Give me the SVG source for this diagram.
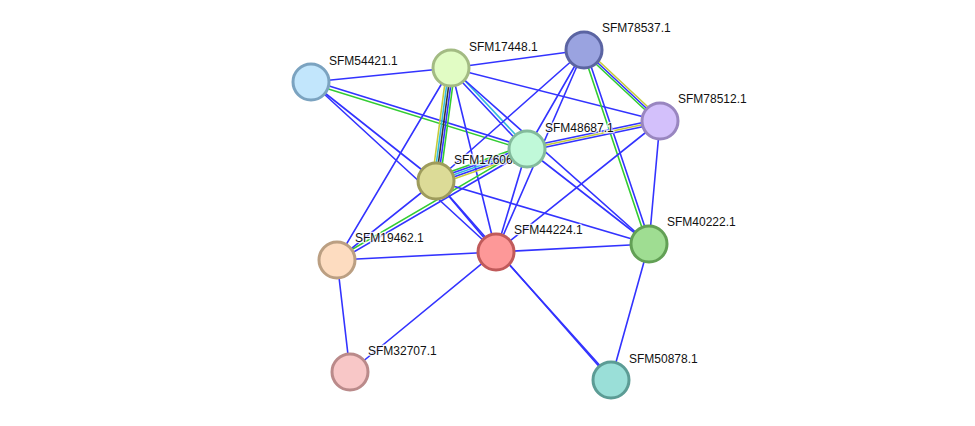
<svg xmlns="http://www.w3.org/2000/svg" width="975" height="426" viewBox="0 0 975 426">
<style>
.e{fill:none;stroke-width:1.6;stroke-linecap:round}
.b{stroke:#3333ff}
.g{stroke:#33cc33}
.y{stroke:#c6cc3a}
.c{stroke:#33bbdd}
.k{stroke:#333333}
.n{stroke-width:3}
.t{font-family:"Liberation Sans",Arial,sans-serif;font-size:12px;fill:#111;stroke:#fff;stroke-width:2.5;stroke-opacity:0.8;paint-order:stroke}
</style>
<rect width="975" height="426" fill="#fff"/>
<g id="edges">
<line class="e b" x1="311" y1="82" x2="451" y2="68"/>
<line class="e b" x1="311.4" y1="80.6" x2="527.4" y2="147.6"/>
<line class="e g" x1="310.6" y1="83.4" x2="526.6" y2="150.4"/>
<line class="e b" x1="311" y1="82" x2="436" y2="181"/>
<line class="e b" x1="311" y1="82" x2="496" y2="252"/>
<line class="e b" x1="451" y1="68" x2="584" y2="50"/>
<line class="e b" x1="451" y1="68" x2="660" y2="121"/>
<line class="e y" x1="447" y1="67.5" x2="432" y2="180.5"/>
<line class="e c" x1="449" y1="67.7" x2="434" y2="180.7"/>
<line class="e k" x1="451" y1="68" x2="436" y2="181"/>
<line class="e b" x1="453" y1="68.3" x2="438" y2="181.3"/>
<line class="e g" x1="455" y1="68.5" x2="440" y2="181.5"/>
<line class="e b" x1="449.9" y1="69" x2="525.9" y2="150"/>
<line class="e c" x1="452.1" y1="67" x2="528.1" y2="148"/>
<line class="e b" x1="451" y1="68" x2="649" y2="244"/>
<line class="e b" x1="451" y1="68" x2="337" y2="260"/>
<line class="e b" x1="451" y1="68" x2="496" y2="252"/>
<line class="e y" x1="585.4" y1="48.5" x2="661.4" y2="119.5"/>
<line class="e b" x1="584" y1="50" x2="660" y2="121"/>
<line class="e g" x1="582.6" y1="51.5" x2="658.6" y2="122.5"/>
<line class="e g" x1="582.6" y1="50.5" x2="647.6" y2="244.5"/>
<line class="e b" x1="585.4" y1="49.5" x2="650.4" y2="243.5"/>
<line class="e b" x1="584" y1="50" x2="436" y2="181"/>
<line class="e b" x1="584" y1="50" x2="527" y2="149"/>
<line class="e b" x1="584" y1="50" x2="496" y2="252"/>
<line class="e b" x1="659.6" y1="119" x2="526.6" y2="147"/>
<line class="e y" x1="660" y1="121" x2="527" y2="149"/>
<line class="e b" x1="660.4" y1="123" x2="527.4" y2="151"/>
<line class="e b" x1="660" y1="121" x2="496" y2="252"/>
<line class="e b" x1="660" y1="121" x2="649" y2="244"/>
<line class="e g" x1="434.7" y1="177.2" x2="525.7" y2="145.2"/>
<line class="e b" x1="435.4" y1="179.1" x2="526.4" y2="147.1"/>
<line class="e c" x1="436" y1="181" x2="527" y2="149"/>
<line class="e b" x1="436.6" y1="182.9" x2="527.6" y2="150.9"/>
<line class="e y" x1="437.3" y1="184.8" x2="528.3" y2="152.8"/>
<line class="e g" x1="526.2" y1="147.7" x2="336.2" y2="258.7"/>
<line class="e b" x1="527.8" y1="150.3" x2="337.8" y2="261.3"/>
<line class="e b" x1="527" y1="149" x2="496" y2="252"/>
<line class="e b" x1="527" y1="149" x2="649" y2="244"/>
<line class="e b" x1="436" y1="181" x2="496" y2="252"/>
<line class="e b" x1="436" y1="181" x2="611" y2="380"/>
<line class="e b" x1="436" y1="181" x2="649" y2="244"/>
<line class="e b" x1="436" y1="181" x2="337" y2="260"/>
<line class="e b" x1="337" y1="260" x2="496" y2="252"/>
<line class="e b" x1="337" y1="260" x2="350" y2="372"/>
<line class="e b" x1="496" y1="252" x2="649" y2="244"/>
<line class="e b" x1="496" y1="252" x2="350" y2="372"/>
<line class="e b" x1="497" y1="251" x2="612" y2="379"/>
<line class="e b" x1="649" y1="244" x2="611" y2="380"/>
</g>
<g id="SFM54421.1"><circle class="n" cx="311" cy="82" r="18" fill="#c2e6fc" stroke="#7ba3c0"/><text class="t" x="329" y="65">SFM54421.1</text></g>
<g id="SFM17448.1"><circle class="n" cx="451" cy="68" r="18" fill="#e1fcc4" stroke="#a3bb83"/><text class="t" x="469" y="51">SFM17448.1</text></g>
<g id="SFM78537.1"><circle class="n" cx="584" cy="50" r="18" fill="#9aa3e0" stroke="#5b64a2"/><text class="t" x="602" y="32">SFM78537.1</text></g>
<g id="SFM78512.1"><circle class="n" cx="660" cy="121" r="18" fill="#d3c0fb" stroke="#9986c0"/><text class="t" x="678" y="103">SFM78512.1</text></g>
<g id="SFM17606.1"><circle class="n" cx="436" cy="181" r="18" fill="#dcdb97" stroke="#9e9c5c"/><text class="t" x="454" y="164">SFM17606.1</text></g>
<g id="SFM48687.1"><circle class="n" cx="527" cy="149" r="18" fill="#c0f9d9" stroke="#83bb9c"/><text class="t" x="545" y="132">SFM48687.1</text></g>
<g id="SFM44224.1"><circle class="n" cx="496" cy="252" r="18" fill="#fd9898" stroke="#c05a5a"/><text class="t" x="514" y="234">SFM44224.1</text></g>
<g id="SFM40222.1"><circle class="n" cx="649" cy="244" r="18" fill="#9fdd92" stroke="#62a055"/><text class="t" x="667" y="226">SFM40222.1</text></g>
<g id="SFM19462.1"><circle class="n" cx="337" cy="260" r="18" fill="#fddcc0" stroke="#bb9f82"/><text class="t" x="355" y="242">SFM19462.1</text></g>
<g id="SFM32707.1"><circle class="n" cx="350" cy="372" r="18" fill="#f8c7c7" stroke="#ba8a8a"/><text class="t" x="368" y="355">SFM32707.1</text></g>
<g id="SFM50878.1"><circle class="n" cx="611" cy="380" r="18" fill="#9adfd8" stroke="#5c9c95"/><text class="t" x="629" y="363">SFM50878.1</text></g>
</svg>
